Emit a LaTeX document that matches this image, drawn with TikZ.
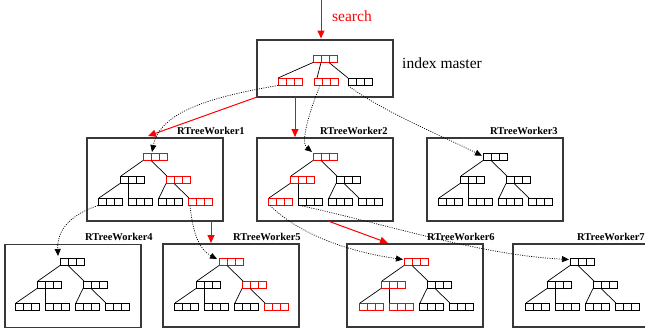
\documentclass[tikz,border=0pt]{standalone}
\usepackage{fontspec}
\setmainfont{Liberation Serif}
\usetikzlibrary{arrows.meta,calc}
\tikzset{
  trip/.style={draw, rectangle, minimum width=24pt, minimum height=7.5pt,
    inner sep=0pt, outer sep=0pt, anchor=north west, line width=0.8pt,
    path picture={
      \draw[line width=0.8pt] ([xshift=8pt]path picture bounding box.south west) -- ([xshift=8pt]path picture bounding box.north west);
      \draw[line width=0.8pt] ([xshift=16pt]path picture bounding box.south west) -- ([xshift=16pt]path picture bounding box.north west);}},
  edge/.style={line width=0.7pt, black},
  wbox/.style={draw=black!78, line width=1.1pt, rectangle, minimum width=136pt,
    minimum height=83pt, inner sep=0pt, outer sep=0pt, anchor=north west},
  wlabel/.style={anchor=base west, inner sep=0pt, font=\fontsize{10.5}{12}\selectfont\bfseries},
  bigtext/.style={anchor=base west, inner sep=0pt, font=\fontsize{15.5}{18}\selectfont},
  redarrow/.style={red, line width=1pt, -{Triangle[length=8pt,width=7pt]}},
  dotarrow/.style={black, line width=0.7pt, dash pattern=on 1pt off 1.3pt,
    -{Triangle[length=7pt,width=6pt]}},
}
\newcommand\rtree[9]{%
  \node[trip,#3] (#1r) at (#2) {};
  \node[trip,#4] (#1a) at ([shift={(-23,23)}]#2) {};
  \node[trip,#5] (#1b) at ([shift={(23,23)}]#2) {};
  \node[trip,#6] (#1l1) at ([shift={(-45,45)}]#2) {};
  \node[trip,#7] (#1l2) at ([shift={(-15,45)}]#2) {};
  \node[trip,#8] (#1l3) at ([shift={(15,45)}]#2) {};
  \node[trip,#9] (#1l4) at ([shift={(45,45)}]#2) {};
  \draw[edge] (#1r.south west) -- ([xshift=1pt]#1a.north west);
  \draw[edge] ([xshift=8pt]#1r.south west) -- ([xshift=1pt]#1b.north west);
  \draw[edge] (#1a.south west) -- ([xshift=1pt]#1l1.north west);
  \draw[edge] ([xshift=8pt]#1a.south west) -- (#1l2.north west);
  \draw[edge] (#1b.south west) -- ([xshift=1pt]#1l3.north west);
  \draw[edge] ([xshift=8pt]#1b.south west) -- ([xshift=1pt]#1l4.north west);
}
\begin{document}
\begin{tikzpicture}[x=1pt,y=-1pt]
\useasboundingbox (0,0) rectangle (645,333);
\clip (0,0) rectangle (645,333);

% boxes
\node[wbox, minimum height=57pt] (mbox) at (257,40) {};
\node[wbox] (w1box) at (87,138) {};
\node[wbox] (w2box) at (257,138) {};
\node[wbox] (w3box) at (427,138) {};
\node[wbox] (w4box) at (5,244.5) {};
\node[wbox] (w5box) at (163,244) {};
\node[wbox] (w6box) at (347,244) {};
\node[wbox] (w7box) at (513,244) {};

% labels
\node[bigtext, red] (searchlab) at (332,21.5) {search};
\node[bigtext] (mlab) at (402,68) {index master};
\node[wlabel] (lab1) at (177,134.5) {RTreeWorker1};
\node[wlabel] (lab2) at (320,134.5) {RTreeWorker2};
\node[wlabel] (lab3) at (490,134.5) {RTreeWorker3};
\node[wlabel] (lab4) at (85,240) {RTreeWorker4};
\node[wlabel] (lab5) at (233,240) {RTreeWorker5};
\node[wlabel] (lab6) at (427,240) {RTreeWorker6};
\node[wlabel] (lab7) at (577,240) {RTreeWorker7};

% master tree
\node[trip,red] (m0) at (313,55) {};
\node[trip,red] (m1) at (278,78) {};
\node[trip,red] (m2) at (314,78) {};
\node[trip,black] (m3) at (348,78) {};
\draw[edge] (m0.south west) -- (m1.north west);
\draw[edge] ([xshift=8pt]m0.south west) -- ([xshift=3pt]m2.north west);
\draw[edge] ([xshift=16pt]m0.south west) -- (m3.north west);

% worker trees
\rtree{w1}{143,153}{red}{black}{red}{black}{black}{black}{red}
\rtree{w2}{313,153}{red}{red}{black}{red}{black}{black}{black}
\rtree{w3}{483,153}{black}{black}{black}{black}{black}{black}{black}
\rtree{w4}{60,258}{black}{black}{black}{black}{black}{black}{black}
\rtree{w5}{219,258}{red}{black}{red}{black}{black}{black}{red}
\rtree{w6}{404,258}{red}{red}{black}{red}{red}{black}{black}
\rtree{w7}{570,258}{black}{black}{black}{black}{black}{black}{black}

% search arrow
\coordinate (stop) at (321,0);
\draw[redarrow] (stop) -- ([xshift=-4pt,yshift=1.5pt]mbox.north);

% red arrows
\draw[redarrow] (mbox.south west) -- ([xshift=61pt,yshift=2pt]w1box.north west);
\draw[redarrow] ([xshift=-30pt]mbox.south) -- ([xshift=-30pt,yshift=1pt]w2box.north);
\draw[redarrow] ([xshift=56pt]w1box.south) -- ([xshift=-20pt,yshift=1pt]w5box.north);
\draw[redarrow] ([xshift=3pt]w2box.south) -- ([xshift=-27pt,yshift=1pt]w6box.north);

% dotted arrows
\draw[dotarrow] (m1.south west) .. controls (210,97) and (160,112) .. ([xshift=9pt,yshift=1pt]w1r.north west);
\draw[dotarrow] ([xshift=6pt]m2.south west) .. controls (310,110) and (300,142) .. ([xshift=-1pt,yshift=1pt]w2r.north west);
\draw[dotarrow] (m3.south west) .. controls (380,110) and (440,135) .. ([xshift=-1pt,yshift=1pt]w3r.west);
\draw[dotarrow] (w1l1.south west) .. controls (70,215) and (57,230) .. ([xshift=-2pt,yshift=2pt]w4r.north west);
\draw[dotarrow] ([xshift=2pt]w1l4.south west) .. controls (193,235) and (200,250) .. ([xshift=-2pt,yshift=-1pt]w5r.north west);
\draw[dotarrow] ([xshift=2pt]w2l1.south west) .. controls (300,235) and (350,252) .. ([xshift=-1pt,yshift=-1.5pt]w6r.north west);
\draw[dotarrow] ([xshift=2pt]w2l2.south west) .. controls (390,225) and (480,255) .. ([xshift=-1pt,yshift=-1.5pt]w7r.north west);
\end{tikzpicture}
\end{document}
